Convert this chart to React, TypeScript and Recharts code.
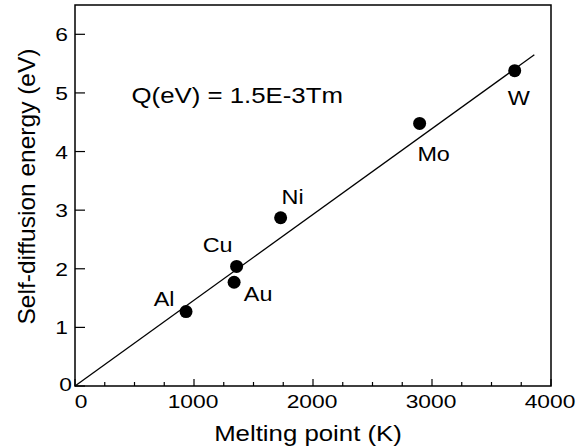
import { ScatterChart, Scatter, XAxis, YAxis, ReferenceArea, ReferenceDot, LabelList } from 'recharts';

const METALS = ['Al', 'Cu', 'Au', 'Ni', 'Mo', 'W'];
const MELTING_K = [933, 1358, 1337, 1728, 2896, 3695];
const Q_EV = [1.27, 2.04, 1.77, 2.87, 4.48, 5.38];

const FIT_X = [0, 3860];
const FIT_Y = [0, 5.65];

const X_TICKS = [0, 250, 500, 750, 1000, 1250, 1500, 1750, 2000, 2250, 2500, 2750, 3000, 3250, 3500, 3750, 4000];
const Y_TICKS = [0, 1, 2, 3, 4, 5, 6];

const EQUATION = 'Q(eV) = 1.5E-3Tm';

const points = METALS.map((name, i) => ({ name, x: MELTING_K[i], y: Q_EV[i] }));
const fit = FIT_X.map((x, i) => ({ x, y: FIT_Y[i] }));

// label offsets from each dot (px)
const LABEL_POS: Record<string, [number, number]> = {
  Al: [-22, -13],
  Cu: [-19, -21],
  Au: [24, 12],
  Ni: [12, -21],
  Mo: [14, 31],
  W: [4, 27],
};

const FONT = '"Liberation Sans", Arial, sans-serif';

// the scan's lettering is a bit wide, so stretch it horizontally
function T({ x, y, size, anchor = 'middle', children }: any) {
  return (
    <text
      transform={`translate(${x} ${y}) scale(1.2 1)`}
      textAnchor={anchor}
      fontSize={size}
      fontFamily={FONT}
      fill="#000"
    >
      {children}
    </text>
  );
}

function XTick(props: any) {
  const { x, y, payload } = props;
  const major = payload.value % 1000 === 0;
  return (
    <g>
      <line x1={x} y1={y} x2={x} y2={y - (major ? 7 : 4)} stroke="#000" strokeWidth={1.2} />
      {major && (
        <T x={x + (payload.value === 0 ? 6 : -1)} y={y + 22} size={19}>
          {payload.value}
        </T>
      )}
    </g>
  );
}

function YTick(props: any) {
  const { x, y, payload } = props;
  const ax = x + 7;
  const isZero = payload.value === 0;
  return (
    <g>
      <line x1={ax} y1={y} x2={ax + 10} y2={y} stroke="#000" strokeWidth={1.2} />
      <T x={isZero ? x + 4 : x} y={y + (isZero ? 5 : 7)} size={19} anchor="end">
        {payload.value}
      </T>
    </g>
  );
}

function PointLabel(props: any) {
  const { x, y, width, height, value } = props;
  const [dx, dy] = LABEL_POS[value] ?? [0, 0];
  return (
    <T x={x + width / 2 + dx} y={y + height / 2 + dy + 7} size={19.5}>
      {value}
    </T>
  );
}

export default function App() {
  return (
    <div style={{ position: 'absolute', left: 0, top: 0, background: '#fff' }}>
      <ScatterChart width={588} height={448} margin={{ top: 5, right: 37, left: 15, bottom: 0 }}>
        <XAxis
          type="number"
          dataKey="x"
          domain={[0, 4000]}
          ticks={X_TICKS}
          interval={0}
          axisLine={false}
          tickLine={false}
          tickSize={0}
          tickMargin={0}
          tick={<XTick />}
          height={62}
          label={{
            content: ({ viewBox }: any) => (
              <T x={viewBox.x + viewBox.width / 2 - 5} y={viewBox.y + 55} size={21.5}>
                Melting point (K)
              </T>
            ),
          }}
        />
        <YAxis
          type="number"
          dataKey="y"
          domain={[0, 6.5]}
          ticks={Y_TICKS}
          interval={0}
          axisLine={false}
          tickLine={false}
          tickSize={0}
          tickMargin={7}
          tick={<YTick />}
          width={60}
          label={{
            content: ({ viewBox }: any) => {
              const cx = viewBox.x + 11;
              const cy = viewBox.y + viewBox.height / 2 - 9;
              return (
                <text
                  x={cx}
                  y={cy}
                  transform={`rotate(-90 ${cx} ${cy})`}
                  textAnchor="middle"
                  dominantBaseline="central"
                  fontSize={24.5}
                  fontFamily={FONT}
                  fill="#000"
                >
                  Self-diffusion energy (eV)
                </text>
              );
            },
          }}
        />
        <ReferenceArea x1={0} x2={4000} y1={0} y2={6.5} fill="none" stroke="#000" strokeWidth={1.5} />
        <Scatter
          data={fit}
          line={{ stroke: '#000', strokeWidth: 1.3 }}
          shape={() => <g />}
          isAnimationActive={false}
        />
        <Scatter data={points} fill="#000" shape={(p: any) => <circle cx={p.cx} cy={p.cy} r={6.5} fill="#000" />} isAnimationActive={false}>
          <LabelList dataKey="name" content={<PointLabel />} />
        </Scatter>
        <ReferenceDot
          x={1363}
          y={4.97}
          r={0}
          fill="none"
          stroke="none"
          label={{
            content: ({ viewBox }: any) => (
              <T x={viewBox.x} y={viewBox.y + 8} size={21.5}>
                {EQUATION}
              </T>
            ),
          }}
        />
      </ScatterChart>
    </div>
  );
}
